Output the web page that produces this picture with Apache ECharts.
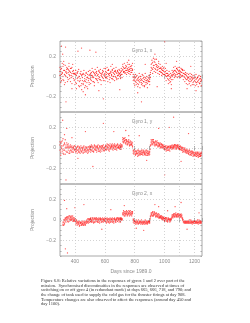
<!DOCTYPE html>
<html>
<head>
<meta charset="utf-8">
<script src="https://cdn.jsdelivr.net/npm/echarts@6/dist/echarts.min.js"></script>
<style>
html,body{margin:0;padding:0;background:#fff}
#chart{width:250px;height:323px}
</style>
</head>
<body>
<div id="chart"></div>
<script>
// days since 1989.0, sampled every 5 days
var days = [
 300,305,310,315,320,325,330,335,340,345,350,355,360,365,370,375,380,385,390,395,
 400,405,410,415,420,425,430,435,440,445,450,455,460,465,470,475,480,485,490,495,
 500,505,510,515,520,525,530,535,540,545,550,555,560,565,570,575,580,585,590,595,
 600,605,610,615,620,625,630,635,640,645,650,655,660,665,670,675,680,685,690,695,
 700,705,710,715,720,725,730,735,740,745,750,755,760,765,770,775,780,785,790,795,
 800,805,810,815,820,825,830,835,840,845,850,855,860,865,870,875,880,885,890,895,
 900,905,910,915,920,925,930,935,940,945,950,955,960,965,970,975,980,985,990,995,
 1000,1005,1010,1015,1020,1025,1030,1035,1040,1045,1050,1055,1060,1065,1070,1075,1080,1085,1090,1095,
 1100,1105,1110,1115,1120,1125,1130,1135,1140,1145,1150,1155,1160,1165,1170,1175,1180,1185,1190,1195,
 1200,1205,1210,1215,1220,1225,1230,1235,1240,1245
];

// Gyro 1, x
var g1xA = [
 0.05,-0.02,0.08,0.03,0.10,-0.04,0.06,0.01,0.04,0.09,-0.01,0.07,0.02,0.05,-0.05,0.08,0.03,0.00,0.06,0.02,
 0.03,-0.06,0.01,-0.02,0.05,-0.09,0.00,-0.04,0.02,-0.07,-0.01,0.03,-0.05,-0.11,0.01,-0.03,-0.06,0.02,-0.02,-0.08,
 0.02,-0.03,0.04,-0.01,0.00,-0.05,0.03,0.01,-0.02,0.05,-0.04,0.02,0.00,0.04,-0.03,0.01,0.03,-0.01,0.05,0.02,
 0.03,-0.01,0.04,0.00,0.06,0.02,-0.03,0.03,0.05,0.01,-0.02,0.04,0.00,0.02,0.06,-0.01,0.03,0.01,0.04,0.02,
 0.03,0.01,0.05,0.02,0.07,0.09,0.05,0.08,0.06,0.10,0.04,0.07,0.09,0.05,0.08,0.06,0.11,0.07,-0.01,-0.03,
 -0.02,-0.05,0.00,-0.04,-0.07,-0.01,-0.03,-0.06,-0.02,-0.08,-0.04,0.01,-0.05,-0.03,-0.06,-0.02,-0.04,-0.07,-0.01,-0.05,
 -0.03,-0.01,0.09,0.13,0.07,0.11,0.15,0.08,0.12,0.10,0.06,0.09,0.13,0.05,0.08,0.04,0.07,0.03,0.06,0.05,
 0.04,0.01,0.03,0.00,-0.02,0.01,-0.04,0.00,-0.01,-0.03,0.02,0.01,0.05,0.03,0.06,0.02,0.04,0.07,0.03,0.05,
 0.06,0.02,0.04,0.07,0.01,0.03,0.00,0.02,-0.02,0.01,-0.03,-0.01,-0.04,0.00,-0.02,-0.05,-0.01,-0.03,-0.06,-0.02,
 -0.04,-0.01,-0.06,-0.02,-0.05,0.00,-0.03,-0.07,-0.02,-0.04
];
var g1xB = [
 0.01,0.07,-0.04,0.04,0.00,0.12,0.02,-0.06,0.05,0.03,0.08,-0.03,0.06,0.01,0.04,-0.01,0.09,0.05,-0.02,0.03,
 -0.03,0.02,-0.07,0.04,-0.01,0.00,-0.05,0.03,-0.09,0.01,-0.04,-0.07,0.02,-0.02,-0.05,0.04,-0.10,-0.01,-0.04,0.01,
 -0.02,0.03,-0.04,0.01,0.05,-0.01,-0.06,0.02,0.04,-0.03,0.01,-0.02,0.06,-0.01,0.03,-0.04,0.00,0.04,-0.02,0.01,
 0.00,0.05,0.02,-0.02,0.03,0.07,0.01,-0.01,0.04,0.02,0.06,-0.03,0.03,0.05,0.00,0.04,-0.02,0.05,0.01,0.03,
 0.00,0.04,0.02,0.06,0.10,0.05,0.08,0.04,0.09,0.06,0.08,0.12,0.05,0.07,0.10,0.04,0.08,0.06,-0.04,0.00,
 -0.04,-0.01,-0.06,-0.03,-0.02,-0.08,-0.05,0.00,-0.04,-0.03,-0.07,-0.02,-0.05,-0.09,-0.01,-0.04,-0.06,-0.03,-0.05,-0.02,
 -0.05,0.02,0.12,0.08,0.14,0.09,0.11,0.17,0.07,0.12,0.09,0.07,0.10,0.08,0.05,0.09,0.04,0.06,0.08,0.02,
 0.02,0.05,0.00,0.03,0.01,-0.03,0.02,-0.02,-0.05,0.01,0.00,0.04,0.02,0.06,0.01,0.05,0.08,0.02,0.06,0.03,
 0.03,0.05,0.01,0.04,0.06,0.00,0.03,-0.01,0.02,-0.03,0.00,-0.02,-0.01,-0.05,-0.03,0.00,-0.04,-0.02,-0.01,-0.05,
 -0.02,-0.05,-0.03,-0.06,-0.01,-0.04,-0.06,-0.02,-0.05,-0.03
];
var g1xC = [
 0.09,-0.06,0.02,0.13,-0.03,0.06,-0.08,0.11,0.00,0.07,-0.05,0.04,0.10,-0.02,0.08,0.01,-0.07,0.12,0.03,-0.04,
 -0.08,0.06,-0.12,0.03,-0.04,0.07,-0.10,-0.02,0.05,-0.13,0.02,-0.08,0.06,-0.04,-0.09,0.03,-0.01,-0.12,0.05,-0.06,
 0.06,-0.07,0.01,0.08,-0.05,0.04,-0.09,0.07,-0.02,0.03,0.09,-0.06,0.05,-0.03,0.07,-0.08,0.02,0.06,-0.04,0.08,
 -0.04,0.08,-0.01,0.09,-0.05,0.06,0.03,-0.06,0.10,-0.02,0.07,0.00,0.08,-0.04,0.05,0.09,-0.03,0.06,-0.02,0.07,
 0.06,-0.02,0.08,-0.01,0.12,0.04,0.13,0.03,0.11,0.02,0.14,0.06,0.03,0.12,0.02,0.10,0.04,0.13,0.02,-0.07,
 -0.09,0.02,-0.08,0.01,-0.10,-0.04,0.03,-0.11,0.00,-0.06,0.02,-0.09,-0.01,-0.10,0.03,-0.08,0.00,-0.11,-0.04,0.01,
 -0.08,0.04,0.06,0.16,0.03,0.18,0.05,0.14,0.04,0.17,0.11,0.03,0.15,0.02,0.12,0.08,0.01,0.10,0.02,0.09,
 -0.02,0.08,-0.04,0.06,0.03,-0.07,0.05,-0.06,0.03,-0.08,0.06,-0.03,0.09,-0.01,0.10,0.00,0.08,-0.01,0.09,0.00,
 0.09,-0.01,0.08,0.00,0.07,-0.03,0.06,-0.05,0.04,-0.07,0.03,-0.08,0.02,-0.07,0.03,-0.09,0.02,-0.08,0.01,-0.08,
 0.01,-0.09,0.02,-0.08,-0.01,-0.10,0.01,-0.07,0.00,-0.09
];
var g1xOut = [
 [310,0.30],[318,0.22],[325,0.15],[337,0.29],[340,-0.25],[360,0.13],[380,-0.12],[420,0.25],[444,0.28],
 [455,-0.15],[470,-0.18],[500,0.26],[540,0.24],[560,-0.14],[590,-0.22],[650,0.12],[700,-0.13],[760,0.16],
 [820,-0.16],[845,-0.25],[870,0.12],[935,0.22],[950,-0.10],[1000,0.34],[1010,0.13],[1045,-0.12],
 [1080,0.15],[1150,-0.12],[1175,0.10],[1210,-0.14]
];

// Gyro 1, y
var g1yA = [
 0.03,-0.04,0.06,-0.01,0.02,-0.06,0.04,0.00,-0.03,0.05,0.01,-0.02,-0.05,0.00,-0.02,0.01,-0.03,-0.01,0.00,-0.02,
 -0.01,-0.03,0.00,-0.02,0.01,-0.01,-0.04,-0.02,0.00,-0.03,-0.01,0.01,-0.02,-0.04,-0.01,0.00,-0.03,-0.01,-0.02,0.01,
 0.00,-0.02,0.01,-0.01,-0.03,0.00,0.02,-0.01,-0.02,0.01,0.00,-0.03,-0.01,0.01,-0.02,0.00,0.02,-0.01,0.00,-0.02,
 0.01,-0.01,0.02,0.00,0.01,-0.02,0.02,0.00,0.01,0.03,-0.01,0.01,0.00,0.02,0.01,-0.01,0.02,0.00,0.01,0.02,
 0.00,0.02,0.01,0.03,0.08,0.06,0.09,0.07,0.05,0.07,0.06,0.04,0.06,0.05,0.03,0.05,0.04,0.02,-0.03,-0.04,
 -0.05,-0.03,-0.04,-0.06,-0.02,-0.04,-0.05,-0.03,-0.06,-0.04,-0.02,-0.05,-0.04,-0.06,-0.03,-0.05,-0.04,-0.07,-0.03,-0.05,
 -0.04,-0.01,0.05,0.07,0.04,0.06,0.03,0.05,0.07,0.04,0.03,0.05,0.02,0.04,0.03,0.01,0.03,0.02,0.00,0.02,
 0.00,0.01,-0.01,0.00,-0.02,0.01,-0.01,0.00,0.02,-0.01,0.01,0.00,0.02,0.01,0.03,0.00,0.02,0.01,0.00,0.02,
 0.01,-0.01,0.00,-0.02,0.00,-0.03,-0.01,-0.02,-0.04,-0.02,-0.03,-0.05,-0.03,-0.04,-0.06,-0.04,-0.05,-0.03,-0.06,-0.05,
 -0.05,-0.07,-0.06,-0.04,-0.07,-0.05,-0.08,-0.06,-0.05,-0.07
];
var g1yB = [
 -0.02,0.05,0.00,0.07,-0.05,0.03,-0.02,0.08,0.01,-0.04,0.03,0.00,0.02,-0.03,0.01,-0.02,0.00,-0.04,0.01,-0.01,
 -0.02,0.00,-0.03,0.01,-0.02,-0.04,0.00,-0.01,-0.03,0.00,-0.02,-0.04,0.00,-0.01,-0.03,-0.02,0.01,-0.02,-0.04,-0.01,
 -0.01,0.01,-0.02,0.02,0.00,-0.03,-0.01,0.01,0.00,-0.02,0.02,-0.01,0.00,-0.03,0.01,-0.01,0.00,0.02,-0.02,0.00,
 0.00,0.02,-0.01,0.01,0.03,0.00,-0.01,0.02,0.00,0.01,0.02,0.00,0.03,-0.01,0.01,0.02,0.00,0.03,0.01,0.00,
 0.02,0.00,0.03,0.01,0.06,0.09,0.07,0.05,0.08,0.06,0.04,0.07,0.05,0.03,0.06,0.04,0.03,0.05,-0.05,-0.02,
 -0.03,-0.06,-0.05,-0.03,-0.05,-0.07,-0.03,-0.04,-0.05,-0.02,-0.06,-0.04,-0.03,-0.05,-0.07,-0.04,-0.02,-0.05,-0.06,-0.04,
 -0.03,0.02,0.06,0.04,0.08,0.05,0.06,0.04,0.03,0.06,0.05,0.02,0.04,0.03,0.01,0.04,0.01,0.03,0.01,-0.01,
 0.01,-0.01,0.00,-0.02,0.00,0.01,-0.02,0.01,0.00,0.02,0.00,0.02,0.01,0.03,0.01,0.02,0.00,0.03,0.01,0.00,
 0.00,0.01,-0.02,0.00,-0.02,-0.01,-0.03,-0.01,-0.03,-0.04,-0.02,-0.04,-0.05,-0.02,-0.04,-0.06,-0.03,-0.05,-0.04,-0.07,
 -0.06,-0.05,-0.08,-0.06,-0.04,-0.07,-0.06,-0.08,-0.07,-0.05
];
var g1yC = [
 0.06,-0.07,0.02,-0.03,0.09,-0.02,0.05,-0.06,0.03,0.00,-0.04,0.04,0.01,-0.05,0.03,-0.04,0.02,0.00,-0.04,0.02,
 0.02,-0.04,-0.01,-0.05,0.02,-0.03,0.01,-0.05,0.02,-0.04,0.00,-0.05,0.02,-0.02,0.01,-0.04,0.00,-0.05,0.01,-0.03,
 0.02,-0.04,0.03,-0.03,0.01,-0.04,0.03,-0.02,0.02,-0.04,0.01,0.03,-0.03,0.02,-0.04,0.02,-0.03,0.01,0.03,-0.03,
 -0.02,0.03,-0.02,0.04,-0.01,0.03,-0.03,0.04,-0.01,0.02,0.04,-0.02,0.02,0.04,-0.01,0.03,-0.02,0.04,0.00,0.03,
 -0.01,0.04,-0.01,0.02,0.10,0.05,0.07,0.10,0.04,0.08,0.03,0.06,0.08,0.02,0.07,0.03,0.06,0.01,-0.02,-0.06,
 -0.02,-0.07,-0.03,-0.05,-0.08,-0.02,-0.06,-0.07,-0.03,-0.06,-0.04,-0.07,-0.02,-0.04,-0.06,-0.02,-0.07,-0.03,-0.05,-0.07,
 -0.06,0.03,0.08,0.03,0.06,0.08,0.05,0.02,0.06,0.03,0.07,0.01,0.05,0.02,0.05,0.00,0.04,0.00,0.03,0.01,
 -0.02,0.02,-0.03,0.02,0.01,-0.02,0.02,-0.03,0.01,0.00,0.03,-0.01,0.00,0.03,-0.01,0.03,-0.01,0.02,0.03,-0.01,
 -0.01,0.02,-0.01,0.01,-0.04,0.00,-0.04,0.00,-0.02,-0.05,-0.01,-0.03,-0.06,-0.02,-0.07,-0.03,-0.07,-0.04,-0.08,-0.04,
 -0.07,-0.04,-0.05,-0.08,-0.05,-0.09,-0.04,-0.06,-0.08,-0.04
];
var g1yOut = [
 [318,0.27],[330,0.13],[340,-0.31],[345,0.19],[380,0.10],[420,-0.10],[470,0.16],[520,-0.18],[590,0.24],
 [660,0.16],[740,0.17],[760,0.12],[830,0.12],[880,-0.12],[960,0.19],[1000,-0.26],[1030,0.20],[1060,0.30],
 [1110,-0.13],[1160,0.14],[1200,-0.11]
];

// Gyro 2, x
var g2xA = [
 null,null,null,null,-0.04,-0.02,-0.03,0.01,0.00,0.02,-0.01,0.03,0.01,0.00,0.02,0.04,0.00,0.01,-0.01,0.02,
 0.00,-0.02,-0.01,-0.03,-0.02,-0.04,-0.01,-0.03,-0.05,-0.02,-0.04,-0.03,-0.01,-0.04,-0.02,-0.03,0.00,-0.02,-0.01,0.00,
 0.01,-0.01,0.00,0.02,-0.01,0.00,-0.02,0.01,0.00,-0.01,0.01,-0.02,0.00,-0.01,0.01,0.00,-0.02,0.00,0.01,-0.01,
 0.00,-0.02,0.01,-0.01,0.00,-0.02,0.00,-0.01,0.01,-0.01,0.00,-0.02,0.01,0.00,-0.01,0.01,0.00,0.02,0.00,0.01,
 0.01,0.00,0.02,0.01,0.05,0.07,0.06,0.04,0.08,0.06,0.05,0.07,0.09,0.06,0.05,0.07,0.06,0.08,0.00,-0.01,
 -0.01,-0.02,-0.03,-0.01,-0.02,0.00,-0.03,-0.02,-0.01,-0.03,-0.02,-0.04,-0.01,-0.02,-0.03,-0.01,-0.02,-0.03,-0.01,-0.02,
 -0.02,0.01,0.05,0.07,0.04,0.06,0.08,0.05,0.04,0.06,0.03,0.05,0.04,0.02,0.04,0.03,0.01,0.03,0.02,0.01,
 0.01,0.00,0.02,-0.01,0.00,0.01,-0.01,0.00,0.01,0.00,0.03,0.05,0.04,0.06,0.03,0.05,0.04,0.06,0.05,0.03,
 0.04,0.05,0.03,0.04,0.01,-0.01,-0.02,-0.01,-0.03,-0.02,-0.01,-0.03,-0.02,0.00,-0.02,-0.03,-0.01,-0.02,-0.03,-0.01,
 -0.02,-0.01,-0.03,-0.02,0.00,-0.02,-0.03,-0.01,-0.02,-0.01
];
var g2xB = [
 null,null,null,null,-0.02,-0.05,0.00,-0.01,0.02,0.00,0.03,-0.01,0.02,0.04,0.00,0.01,0.03,-0.01,0.02,0.00,
 -0.01,0.00,-0.03,-0.02,-0.04,-0.02,-0.05,-0.03,-0.02,-0.04,-0.03,-0.05,-0.02,-0.03,-0.04,-0.01,-0.02,-0.01,0.01,-0.02,
 0.00,0.01,-0.02,0.00,0.01,-0.02,0.01,-0.01,0.02,0.00,-0.01,0.01,-0.02,0.01,0.00,-0.02,0.01,-0.01,0.00,0.01,
 -0.01,0.01,-0.02,0.00,0.01,-0.01,0.01,-0.02,0.00,0.00,-0.02,0.01,-0.01,0.01,-0.02,0.00,0.01,-0.01,0.02,0.00,
 -0.01,0.02,0.00,0.01,0.07,0.05,0.08,0.06,0.05,0.07,0.08,0.05,0.06,0.08,0.07,0.05,0.08,0.06,-0.02,0.00,
 -0.03,-0.01,-0.02,-0.04,-0.01,-0.03,-0.02,-0.01,-0.04,-0.02,-0.01,-0.02,-0.03,-0.01,-0.02,-0.04,-0.03,-0.02,-0.01,-0.03,
 -0.01,0.03,0.06,0.04,0.07,0.05,0.05,0.07,0.06,0.04,0.05,0.03,0.06,0.03,0.02,0.04,0.02,0.01,0.02,0.00,
 0.00,0.02,-0.01,0.01,-0.01,0.00,0.01,-0.02,0.00,0.01,0.04,0.03,0.05,0.04,0.06,0.04,0.05,0.03,0.06,0.04,
 0.03,0.05,0.04,0.02,0.00,-0.02,-0.01,-0.03,-0.02,-0.01,-0.02,-0.02,-0.03,-0.01,-0.02,0.00,-0.03,-0.02,-0.01,-0.02,
 -0.01,-0.03,-0.02,-0.01,-0.03,-0.02,0.00,-0.02,-0.03,-0.02
];
var g2xC = [
 null,null,null,null,-0.05,0.00,-0.04,0.02,-0.02,0.03,0.01,-0.02,0.04,-0.01,0.03,0.00,0.02,0.04,0.00,-0.01,
 0.01,-0.04,0.00,-0.05,-0.01,-0.03,-0.06,-0.02,-0.03,-0.05,-0.01,-0.04,-0.05,-0.02,-0.05,-0.01,-0.03,0.01,-0.03,0.01,
 -0.02,0.02,-0.01,-0.02,0.02,-0.03,0.02,-0.02,0.01,0.02,-0.02,0.00,0.02,-0.03,0.02,0.01,-0.01,0.02,-0.02,0.00,
 0.02,0.00,-0.03,0.02,-0.02,0.01,-0.03,0.02,-0.02,0.01,0.02,-0.01,-0.03,0.02,0.00,-0.02,0.02,-0.01,0.01,-0.02,
 0.02,-0.02,0.01,0.00,0.06,0.09,0.04,0.07,0.06,0.09,0.04,0.06,0.07,0.04,0.09,0.06,0.04,0.07,0.01,-0.03,
 -0.02,-0.04,0.00,-0.02,-0.03,-0.04,-0.01,-0.03,-0.02,0.00,-0.04,-0.03,-0.02,-0.04,0.00,-0.03,-0.01,-0.04,-0.02,-0.01,
 -0.03,0.04,0.07,0.05,0.08,0.04,0.07,0.06,0.03,0.07,0.04,0.06,0.02,0.05,0.03,0.02,0.04,0.00,0.03,0.02,
 -0.01,0.02,0.00,0.02,-0.02,0.02,0.00,0.01,-0.01,0.02,0.05,0.02,0.06,0.03,0.05,0.07,0.03,0.05,0.04,0.06,
 0.05,0.03,0.06,0.05,0.02,0.00,-0.03,-0.02,-0.01,-0.03,-0.03,-0.01,-0.01,-0.03,-0.03,-0.01,-0.02,-0.04,-0.02,-0.03,
 -0.03,-0.02,-0.01,-0.03,-0.02,-0.04,-0.01,-0.03,-0.01,-0.03
];
var g2xOut = [
 [330,0.19],[336,-0.28],[345,0.11],[350,-0.32],[400,0.12],[460,0.15],[580,-0.09],[640,0.10],[730,0.14],
 [810,-0.08],[860,-0.10],[935,0.15],[960,0.13],[1020,0.09],[1070,0.13],[1110,0.17],[1150,-0.09],[1230,0.07]
];

var panelTitles = ['Gyro 1, x', 'Gyro 1, y', 'Gyro 2, x'];
var xLabels = [400, 600, 800, 1000, 1200];
var xGridDays = [400, 600, 800, 1000, 1100, 1200];
var yLabels = [-0.2, 0, 0.2];

var caption = [
 'Figure 6.8: Relative variations in the responses of gyros 1 and 2 over part of the',
 'mission.  Synchronised discontinuities in the responses are observed at times of',
 'switching on or off gyro 4 (in redundant mode) at days 665, 666, 718, and 790; and',
 'the change of tank used to supply the cold gas for the thruster firings at day 908.',
 'Temperature changes are also observed to affect the responses (around day 450 and',
 'day 1100).'
];

var chart = echarts.init(document.getElementById('chart'), null, {renderer: 'canvas'});

var panelData = [[g1xA, g1xB, g1xC, g1xOut], [g1yA, g1yB, g1yC, g1yOut], [g2xA, g2xB, g2xC, g2xOut]];
var tops = [41, 112, 184];
var heights = [71, 72, 72];

function pairs(vals) {
  var out = [];
  for (var i = 0; i < vals.length && i < days.length; i++) {
    if (vals[i] !== null) out.push([days[i], vals[i]]);
  }
  return out;
}

function fmtY(v) {
  for (var i = 0; i < yLabels.length; i++) {
    if (Math.abs(v - yLabels[i]) < 1e-6) {
      if (yLabels[i] === 0) return '0';
      return yLabels[i].toFixed(1).replace('-', '\u2212');
    }
  }
  return '';
}

var axisGray = '#a8a8a8';
var textGray = '#8c8c8c';
var grid = [], xAxis = [], yAxis = [], series = [], graphic = [];

panelData.forEach(function (pd, k) {
  var last = k === panelData.length - 1;
  grid.push({left: 60, right: 48, top: tops[k], height: heights[k],
    show: true, borderColor: axisGray, borderWidth: 1, backgroundColor: 'transparent'});

  xAxis.push({
    gridIndex: k, type: 'value', min: 300, max: 1250, interval: 100, position: 'bottom',
    axisLine: {show: false},
    axisTick: {show: true, inside: true, length: 2, lineStyle: {color: axisGray}},
    splitLine: {show: false},
    axisLabel: {show: last, margin: 3, fontSize: 5, color: textGray, fontFamily: 'Liberation Sans',
      formatter: function (v) { return xLabels.indexOf(v) >= 0 ? String(v) : ''; }},
    name: last ? 'Days since 1989.0' : '', nameLocation: 'middle', nameGap: 13,
    nameTextStyle: {fontSize: 5, color: textGray, fontFamily: 'Liberation Sans'}
  });
  xAxis.push({
    gridIndex: k, type: 'value', min: 300, max: 1250, interval: 100, position: 'top',
    axisLine: {show: false},
    axisTick: {show: true, inside: true, length: 2, lineStyle: {color: axisGray}},
    splitLine: {show: false}, axisLabel: {show: false}
  });
  yAxis.push({
    gridIndex: k, type: 'value', min: -0.35, max: 0.35, interval: 0.05, position: 'left',
    axisLine: {show: false},
    axisTick: {show: true, inside: true, length: 1.5, lineStyle: {color: axisGray}},
    splitLine: {show: false},
    axisLabel: {margin: 4, fontSize: 5, color: textGray, fontFamily: 'Liberation Sans', formatter: fmtY},
    name: 'Projection', nameLocation: 'middle', nameGap: 15, nameRotate: 90,
    nameTextStyle: {fontSize: 5, color: textGray, fontFamily: 'Liberation Sans'}
  });
  yAxis.push({
    gridIndex: k, type: 'value', min: -0.35, max: 0.35, interval: 0.05, position: 'right',
    axisLine: {show: false},
    axisTick: {show: true, inside: true, length: 1.5, lineStyle: {color: axisGray}},
    splitLine: {show: false}, axisLabel: {show: false}
  });

  var lines = [];
  xGridDays.forEach(function (d) { lines.push({xAxis: d}); });
  yLabels.forEach(function (v) { lines.push({yAxis: v}); });

  series.push({
    type: 'scatter', xAxisIndex: 2 * k, yAxisIndex: 2 * k,
    data: pairs(pd[0]).concat(pairs(pd[1]), pairs(pd[2]), pd[3]),
    symbolSize: 1.3, silent: true,
    itemStyle: {color: '#ff0000', opacity: 0.7},
    markLine: {
      silent: true, symbol: 'none', animation: false,
      label: {show: false},
      lineStyle: {type: [1, 2], color: '#c8c8c8', width: 0.8},
      data: lines
    }
  });

  graphic.push({
    type: 'text', x: 142, y: tops[k] + 10,
    style: {text: panelTitles[k], fontSize: 5, fill: textGray, fontFamily: 'Liberation Sans',
      textAlign: 'center', textVerticalAlign: 'middle'}
  });
});

caption.forEach(function (line, i) {
  graphic.push({
    type: 'text', x: 41, y: 280.7 + i * 4.67,
    style: {text: line, fontSize: 4.5, fill: '#333', fontFamily: 'Liberation Serif',
      textAlign: 'left', textVerticalAlign: 'middle'}
  });
});

chart.setOption({
  backgroundColor: '#fff',
  animation: false,
  grid: grid,
  xAxis: xAxis,
  yAxis: yAxis,
  series: series,
  graphic: graphic
});
</script>
</body>
</html>
